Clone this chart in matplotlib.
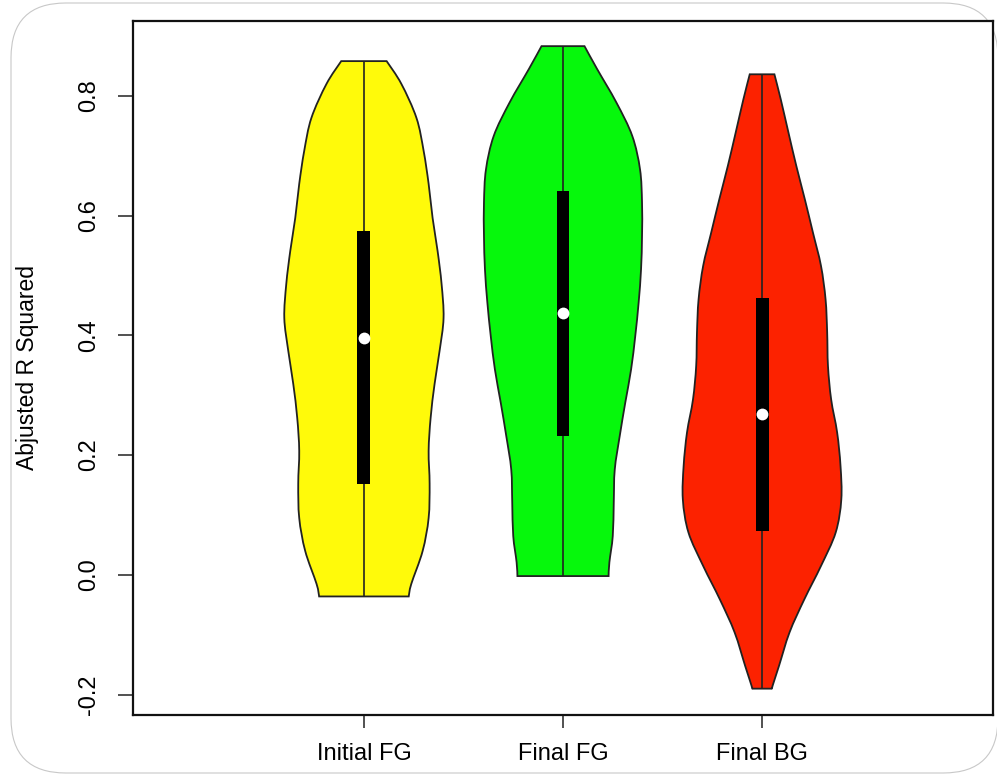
import matplotlib
matplotlib.use("Agg")
import matplotlib.pyplot as plt
from matplotlib.patches import FancyBboxPatch, PathPatch
from matplotlib.path import Path
import numpy as np

plt.rcParams['font.family'] = ['Liberation Sans', 'DejaVu Sans']

categories = ["Initial FG", "Final FG", "Final BG"]
colors = ["#FFFA0A", "#06F80C", "#FC2200"]

# violin outlines: y value and half-width (x units)
yellow_y = [0.858, 0.820, 0.763, 0.708, 0.653, 0.596, 0.541, 0.486, 0.429, 0.374,
            0.319, 0.262, 0.207, 0.152, 0.095, 0.040, -0.015, -0.036]
yellow_hw = [0.114, 0.188, 0.264, 0.300, 0.325, 0.345, 0.370, 0.390, 0.400, 0.380,
             0.355, 0.335, 0.325, 0.330, 0.325, 0.295, 0.238, 0.225]

green_y = [0.883, 0.845, 0.789, 0.733, 0.677, 0.622, 0.566, 0.510, 0.455, 0.399,
           0.343, 0.288, 0.232, 0.176, 0.121, 0.065, 0.021, -0.002]
green_hw = [0.108, 0.171, 0.268, 0.348, 0.387, 0.397, 0.397, 0.392, 0.380, 0.363,
            0.342, 0.313, 0.285, 0.260, 0.255, 0.250, 0.233, 0.229]

red_y = [0.836, 0.794, 0.738, 0.683, 0.627, 0.571, 0.516, 0.460, 0.405, 0.349,
         0.293, 0.238, 0.182, 0.126, 0.071, 0.015, -0.041, -0.096, -0.152, -0.185, -0.190]
red_hw = [0.062, 0.094, 0.133, 0.172, 0.215, 0.256, 0.296, 0.319, 0.327, 0.331,
          0.347, 0.377, 0.394, 0.398, 0.370, 0.296, 0.212, 0.138, 0.085, 0.053, 0.050]

q1 = [0.152, 0.232, 0.073]
q3 = [0.574, 0.641, 0.462]
medians = [0.396, 0.437, 0.269]

yticks = [-0.2, 0.0, 0.2, 0.4, 0.6, 0.8]
ylabel = "Abjusted R Squared"

profiles = [(yellow_y, yellow_hw), (green_y, green_hw), (red_y, red_hw)]


def smooth_side(pts):
    """Catmull-Rom curve through pts rendered as cubic Bezier path pieces."""
    verts, codes = [], []
    n = len(pts)
    for k in range(n - 1):
        p0 = pts[max(k - 1, 0)]
        p1 = pts[k]
        p2 = pts[k + 1]
        p3 = pts[min(k + 2, n - 1)]
        c1 = p1 + (p2 - p0) / 6.0
        c2 = p2 - (p3 - p1) / 6.0
        verts += [tuple(c1), tuple(c2), tuple(p2)]
        codes += [Path.CURVE4] * 3
    return verts, codes


def violin_path(x, ys, hws):
    ys = np.asarray(ys, float)
    hws = np.asarray(hws, float)
    right = np.column_stack([x + hws, ys])            # top -> bottom
    left = np.column_stack([x - hws, ys])[::-1]       # bottom -> top
    verts = [tuple(right[0])]
    codes = [Path.MOVETO]
    v, c = smooth_side(right)
    verts += v; codes += c
    verts.append(tuple(left[0])); codes.append(Path.LINETO)
    v, c = smooth_side(left)
    verts += v; codes += c
    verts.append(tuple(right[0])); codes.append(Path.CLOSEPOLY)
    return Path(verts, codes)


fig = plt.figure(figsize=(9.97, 7.78), dpi=100)
fig.patch.set_facecolor("white")

frame = FancyBboxPatch((11 / 997, 5 / 778), (987 / 997), (770 / 778),
                       boxstyle="round,pad=0,rounding_size=0.055",
                       transform=fig.transFigure, facecolor="none",
                       edgecolor="#c8c8c8", linewidth=0.8, zorder=-10,
                       mutation_aspect=997 / 778)
fig.patches.append(frame)

ax = fig.add_axes([133 / 997, 1 - 715 / 778, (993 - 133) / 997, (715 - 21) / 778])
ax.set_zorder(5)
ax.set_facecolor("white")

for i, ((ys, hws), col) in enumerate(zip(profiles, colors)):
    x = i + 1
    ax.add_patch(PathPatch(violin_path(x, ys, hws), facecolor=col,
                           edgecolor="#222222", linewidth=1.3, zorder=2))
    ax.vlines(x, min(ys), max(ys), color="#222222", linewidth=1.2, zorder=3)
    ax.bar(x, q3[i] - q1[i], bottom=q1[i], width=0.065, color="black", zorder=4)
    ax.plot(x, medians[i], "o", color="white", markersize=8.5,
            markeredgewidth=0, zorder=5)

ax.set_xlim(-0.16, 4.16)
ax.set_ylim(-0.234, 0.925)
ax.set_xticks([1, 2, 3])
ax.set_xticklabels(categories, fontsize=17)
ax.set_yticks(yticks)
ax.set_yticklabels([f"{v:.1f}" for v in yticks], fontsize=17, rotation=90,
                   va="center")
ax.tick_params(axis="x", length=9.5, width=1.2, color="#333333", pad=11)
ax.tick_params(axis="y", length=11, width=1.2, color="#333333", pad=13)
ax.set_ylabel(ylabel, fontsize=16.5)
ax.yaxis.set_label_coords(-(133 - 39) / 860, 0.5)
for sp in ax.spines.values():
    sp.set_linewidth(1.6)
    sp.set_color("#111111")

fig.savefig("out.png", dpi=100)
